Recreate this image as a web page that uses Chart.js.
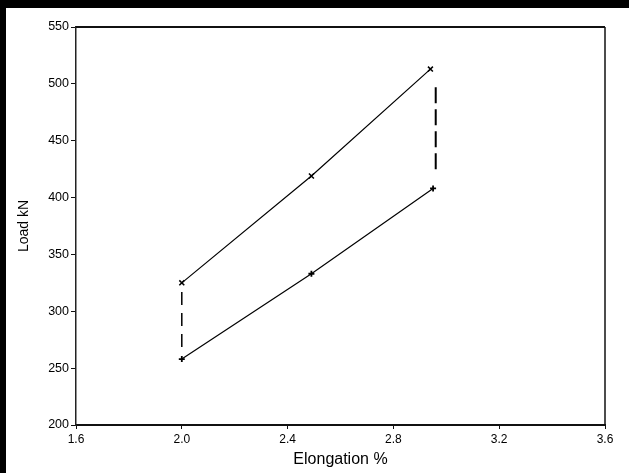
<!DOCTYPE html>
<html>
<head>
<meta charset="utf-8">
<meta name="color-scheme" content="only light">
<script src="https://cdn.jsdelivr.net/npm/chart.js@4.4.1/dist/chart.umd.min.js"></script>
<style>
    :root { color-scheme: only light; }
    html, body { margin: 0; padding: 0; background: #ffffff; overflow: hidden; }
    #chart { display: block; background: #ffffff; }
</style>
</head>
<body>
<canvas id="chart" width="629" height="473"></canvas>
<script>
// Values
const xTicks = [1.6, 2.0, 2.4, 2.8, 3.2, 3.6];
const xTickLabels = ["1.6", "2.0", "2.4", "2.8", "3.2", "3.6"];
const yTicks = [200, 250, 300, 350, 400, 450, 500, 550];
const yTickLabels = ["200", "250", "300", "350", "400", "450", "500", "550"];

const upperElong = [2.0, 2.49, 2.94];
const upperLoad = [325, 419, 513];
const lowerElong = [2.0, 2.49, 2.95];
const lowerLoad = [258, 333, 408];

// dashed connectors between the two curves
const leftDashElong = [2.0, 2.0];
const leftDashLoad = [317, 263];
const rightDashElong = [2.96, 2.96];
const rightDashLoad = [497, 424];

function toPoints(xs, ys) {
    return xs.map((x, i) => ({ x: x, y: ys[i] }));
}

// white paper with the heavy black frame on top and left
const paperPlugin = {
    id: "paper",
    beforeDraw(chart) {
        const c = chart.ctx;
        c.save();
        c.fillStyle = "#ffffff";
        c.fillRect(0, 0, chart.width, chart.height);
        c.fillStyle = "#000000";
        c.fillRect(0, 0, chart.width, 8);
        c.fillRect(0, 0, 6, chart.height);
        c.restore();
    }
};

// top and right edges of the plot box
const boxPlugin = {
    id: "box",
    afterDraw(chart) {
        const a = chart.chartArea;
        const c = chart.ctx;
        c.save();
        c.strokeStyle = "#111";
        c.lineWidth = 2;
        c.beginPath();
        c.moveTo(a.left, a.top);
        c.lineTo(a.right, a.top);
        c.stroke();
        c.lineWidth = 1.5;
        c.beginPath();
        c.moveTo(a.right, a.top);
        c.lineTo(a.right, a.bottom);
        c.stroke();
        c.restore();
    }
};

document.addEventListener("DOMContentLoaded", function () {
    "use strict";

    Chart.defaults.font.family = "'Liberation Sans', Arial, sans-serif";
    Chart.defaults.color = "#000";

    let ctx = document.getElementById("chart").getContext("2d");
    new Chart(ctx, {
        type: "scatter",
        data: {
            datasets: [
                {
                    data: toPoints(upperElong, upperLoad),
                    showLine: true,
                    borderColor: "#000",
                    borderWidth: 1.2,
                    pointStyle: "crossRot",
                    pointRadius: 3.5,
                    pointBorderWidth: 1.5,
                    pointBorderColor: "#000"
                },
                {
                    data: toPoints(lowerElong, lowerLoad),
                    showLine: true,
                    borderColor: "#000",
                    borderWidth: 1.2,
                    pointStyle: "cross",
                    pointRadius: 3,
                    pointBorderWidth: 1.8,
                    pointBorderColor: "#000"
                },
                {
                    data: toPoints(leftDashElong, leftDashLoad),
                    showLine: true,
                    borderColor: "#000",
                    borderWidth: 1.5,
                    borderDash: [13, 8],
                    pointRadius: 0
                },
                {
                    data: toPoints(rightDashElong, rightDashLoad),
                    showLine: true,
                    borderColor: "#000",
                    borderWidth: 2,
                    borderDash: [16, 6],
                    pointRadius: 0
                }
            ]
        },
        options: {
            responsive: false,
            animation: false,
            layout: { padding: { top: 27, right: 24, left: 6, bottom: 0 } },
            plugins: {
                legend: { display: false },
                tooltip: { enabled: false }
            },
            scales: {
                x: {
                    type: "linear",
                    min: 1.6,
                    max: 3.6,
                    afterBuildTicks: axis => { axis.ticks = xTicks.map(v => ({ value: v })); },
                    afterFit: axis => { axis.height = 48; },
                    grid: { drawOnChartArea: false, drawTicks: true, tickLength: 4, color: "#111" },
                    border: { display: true, color: "#111", width: 2 },
                    ticks: {
                        padding: 3,
                        maxRotation: 0,
                        font: { size: 12 },
                        callback: (v, i) => xTickLabels[i]
                    },
                    title: {
                        display: true,
                        text: "Elongation %",
                        font: { size: 16 },
                        padding: { top: 0, bottom: 4 }
                    }
                },
                y: {
                    type: "linear",
                    min: 200,
                    max: 550,
                    afterBuildTicks: axis => { axis.ticks = yTicks.map(v => ({ value: v })); },
                    afterFit: axis => { axis.width = 70; },
                    grid: { drawOnChartArea: false, drawTicks: true, tickLength: 5, color: "#111" },
                    border: { display: true, color: "#222", width: 1.5 },
                    ticks: {
                        padding: 2,
                        font: { size: 12.5 },
                        callback: (v, i) => yTickLabels[i]
                    },
                    title: {
                        display: true,
                        text: "Load kN",
                        font: { size: 14 },
                        padding: { top: 10, bottom: 0 }
                    }
                }
            }
        },
        plugins: [paperPlugin, boxPlugin]
    });
});
</script>
</body>
</html>
